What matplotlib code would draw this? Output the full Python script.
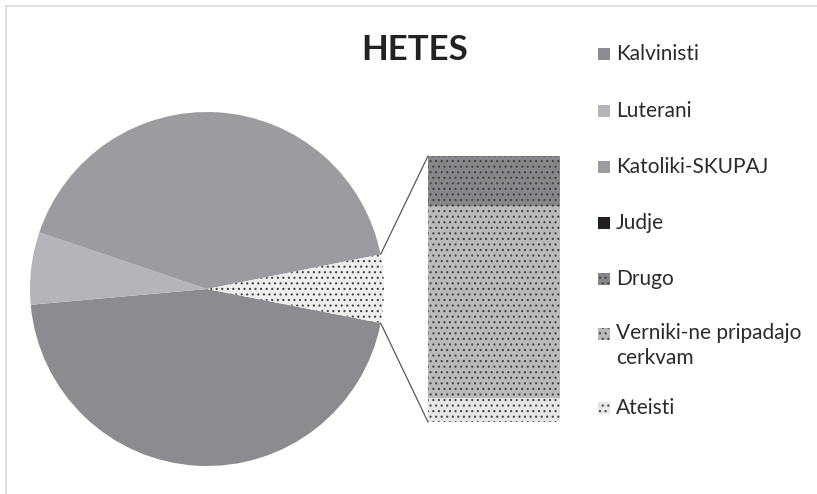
import matplotlib
matplotlib.use("Agg")
import matplotlib.pyplot as plt
from matplotlib.patches import ConnectionPatch, Rectangle
from matplotlib.lines import Line2D
import numpy as np

plt.rcParams['hatch.color'] = '#444444'
plt.rcParams['hatch.linewidth'] = 0.8

title = "HETES"
pie_labels = ["Kalvinisti", "Luterani", "Katoliki-SKUPAJ", "Judje"]
pie_values = [45.5, 6.6, 41.7, 0.0]
bar_labels = ["Drugo", "Verniki-ne pripadajo\ncerkvam", "Ateisti"]
bar_values = [1.17, 4.48, 0.56]

pie_colors = ["#8b8c90", "#b4b5b8", "#9b9c9f", "#231f20"]
other_color = "#eeeeee"
bar_colors = ["#86878b", "#b9babc", "#e6e6e6"]
HATCH = '...'

W, H = 817, 494
fig = plt.figure(figsize=(W / 100, H / 100), dpi=100)

def fbox(x0, y0, x1, y1):
    return [x0 / W, 1 - y1 / H, (x1 - x0) / W, (y1 - y0) / H]

# border lines (left and top)
fig.add_artist(Line2D([5.5 / W, 5.5 / W], [0, 1 - 6.5 / H], transform=fig.transFigure,
                      color="#d9d9d9", lw=1.2))
fig.add_artist(Line2D([5.5 / W, 1], [1 - 6.5 / H, 1 - 6.5 / H], transform=fig.transFigure,
                      color="#d9d9d9", lw=1.2))

# Pie
axp = fig.add_axes(fbox(30, 112, 384, 466))
other_total = sum(bar_values)
vals = pie_values + [other_total]
cols = pie_colors + [other_color]
wedges, _ = axp.pie(vals, colors=cols, startangle=-11.1, counterclock=False,
                    wedgeprops=dict(linewidth=0), radius=1.0)
wedges[-1].set_hatch(HATCH)
wedges[-1].set_edgecolor('#444444')
wedges[-1].set_linewidth(0)
axp.set_xlim(-1, 1)
axp.set_ylim(-1, 1)
axp.set_aspect('auto')
axp.axis('off')

# Bar
axb = fig.add_axes(fbox(428, 156, 560, 422))
bottom = other_total
for v, c in zip(bar_values, bar_colors):
    bottom -= v
    axb.bar(0, v, bottom=bottom, width=1.0, color=c, hatch=HATCH,
            edgecolor='#444444', linewidth=0)
axb.set_xlim(-0.5, 0.5)
axb.set_ylim(0, other_total)
axb.axis('off')

# connectors
w = wedges[-1]
t1, t2 = np.deg2rad(w.theta1), np.deg2rad(w.theta2)
for t, yb in [(t2, other_total), (t1, 0)]:
    con = ConnectionPatch(xyA=(np.cos(t), np.sin(t)), coordsA=axp.transData,
                          xyB=(-0.5, yb), coordsB=axb.transData,
                          color="#595959", lw=0.9)
    fig.add_artist(con)

# title
fig.text(415 / W, 1 - 50 / H, title, ha='center', va='center', fontsize=25,
         fontweight='bold', family='Lato', color='#222222')

# legend
leg_labels = pie_labels + bar_labels
leg_colors = pie_colors + bar_colors
leg_hatch = [None] * len(pie_labels) + [HATCH] * len(bar_labels)
ys = [54, 111, 167, 223, 279, 334, 408]
for lab, c, h, y in zip(leg_labels, leg_colors, leg_hatch, ys):
    fig.add_artist(Rectangle((598 / W, 1 - (y + 6) / H), 12 / W, 12 / H,
                             transform=fig.transFigure, facecolor=c,
                             hatch=h, edgecolor='#444444' if h else c, linewidth=0))
    if '\n' in lab:
        fig.text(616 / W, 1 - (y - 11) / H, lab, ha='left', va='top',
                 fontsize=15, family='Lato', color='#2b2b2b', linespacing=1.3)
    else:
        fig.text(616 / W, 1 - y / H, lab, ha='left', va='center',
                 fontsize=15, family='Lato', color='#2b2b2b')

fig.savefig("out.png", dpi=100)
